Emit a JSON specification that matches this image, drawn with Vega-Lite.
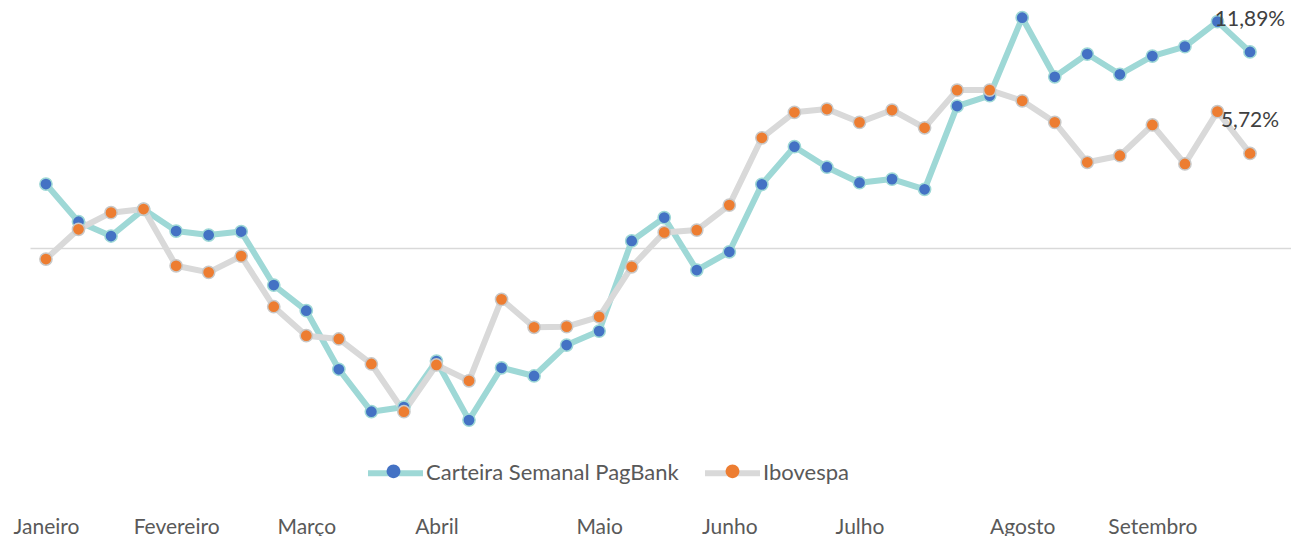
{
  "$schema": "https://vega.github.io/schema/vega-lite/v6.json",
  "width": 1261,
  "height": 506,
  "autosize": {"type": "none"},
  "padding": {"left": 30, "top": 9, "right": 0, "bottom": 21},
  "background": "white",
  "config": {
    "view": {"stroke": null},
    "font": "Lato",
    "locale": {"number": {"decimal": ",", "thousands": ".", "grouping": [3], "currency": ["R$", ""]}}
  },
  "data": {
    "values": [
      {"i": 0, "series": "Carteira Semanal PagBank", "value": 0.0386},
      {"i": 1, "series": "Carteira Semanal PagBank", "value": 0.0157},
      {"i": 2, "series": "Carteira Semanal PagBank", "value": 0.0070},
      {"i": 3, "series": "Carteira Semanal PagBank", "value": 0.0232},
      {"i": 4, "series": "Carteira Semanal PagBank", "value": 0.0100},
      {"i": 5, "series": "Carteira Semanal PagBank", "value": 0.0076},
      {"i": 6, "series": "Carteira Semanal PagBank", "value": 0.0097},
      {"i": 7, "series": "Carteira Semanal PagBank", "value": -0.0228},
      {"i": 8, "series": "Carteira Semanal PagBank", "value": -0.0384},
      {"i": 9, "series": "Carteira Semanal PagBank", "value": -0.0740},
      {"i": 10, "series": "Carteira Semanal PagBank", "value": -0.0998},
      {"i": 11, "series": "Carteira Semanal PagBank", "value": -0.0970},
      {"i": 12, "series": "Carteira Semanal PagBank", "value": -0.0690},
      {"i": 13, "series": "Carteira Semanal PagBank", "value": -0.1049},
      {"i": 14, "series": "Carteira Semanal PagBank", "value": -0.0731},
      {"i": 15, "series": "Carteira Semanal PagBank", "value": -0.0781},
      {"i": 16, "series": "Carteira Semanal PagBank", "value": -0.0593},
      {"i": 17, "series": "Carteira Semanal PagBank", "value": -0.0508},
      {"i": 18, "series": "Carteira Semanal PagBank", "value": 0.0040},
      {"i": 19, "series": "Carteira Semanal PagBank", "value": 0.0182},
      {"i": 20, "series": "Carteira Semanal PagBank", "value": -0.0137},
      {"i": 21, "series": "Carteira Semanal PagBank", "value": -0.0026},
      {"i": 22, "series": "Carteira Semanal PagBank", "value": 0.0384},
      {"i": 23, "series": "Carteira Semanal PagBank", "value": 0.0613},
      {"i": 24, "series": "Carteira Semanal PagBank", "value": 0.0488},
      {"i": 25, "series": "Carteira Semanal PagBank", "value": 0.0394},
      {"i": 26, "series": "Carteira Semanal PagBank", "value": 0.0416},
      {"i": 27, "series": "Carteira Semanal PagBank", "value": 0.0354},
      {"i": 28, "series": "Carteira Semanal PagBank", "value": 0.0860},
      {"i": 29, "series": "Carteira Semanal PagBank", "value": 0.0923},
      {"i": 30, "series": "Carteira Semanal PagBank", "value": 0.1397},
      {"i": 31, "series": "Carteira Semanal PagBank", "value": 0.1038},
      {"i": 32, "series": "Carteira Semanal PagBank", "value": 0.1176},
      {"i": 33, "series": "Carteira Semanal PagBank", "value": 0.1053},
      {"i": 34, "series": "Carteira Semanal PagBank", "value": 0.1164},
      {"i": 35, "series": "Carteira Semanal PagBank", "value": 0.1221},
      {"i": 36, "series": "Carteira Semanal PagBank", "value": 0.1373},
      {"i": 37, "series": "Carteira Semanal PagBank", "value": 0.1189},
      {"i": 0, "series": "Ibovespa", "value": -0.0070},
      {"i": 1, "series": "Ibovespa", "value": 0.0111},
      {"i": 2, "series": "Ibovespa", "value": 0.0212},
      {"i": 3, "series": "Ibovespa", "value": 0.0234},
      {"i": 4, "series": "Ibovespa", "value": -0.0111},
      {"i": 5, "series": "Ibovespa", "value": -0.0151},
      {"i": 6, "series": "Ibovespa", "value": -0.0052},
      {"i": 7, "series": "Ibovespa", "value": -0.0360},
      {"i": 8, "series": "Ibovespa", "value": -0.0536},
      {"i": 9, "series": "Ibovespa", "value": -0.0556},
      {"i": 10, "series": "Ibovespa", "value": -0.0708},
      {"i": 11, "series": "Ibovespa", "value": -0.0998},
      {"i": 12, "series": "Ibovespa", "value": -0.0714},
      {"i": 13, "series": "Ibovespa", "value": -0.0810},
      {"i": 14, "series": "Ibovespa", "value": -0.0315},
      {"i": 15, "series": "Ibovespa", "value": -0.0485},
      {"i": 16, "series": "Ibovespa", "value": -0.0481},
      {"i": 17, "series": "Ibovespa", "value": -0.0421},
      {"i": 18, "series": "Ibovespa", "value": -0.0117},
      {"i": 19, "series": "Ibovespa", "value": 0.0092},
      {"i": 20, "series": "Ibovespa", "value": 0.0106},
      {"i": 21, "series": "Ibovespa", "value": 0.0258},
      {"i": 22, "series": "Ibovespa", "value": 0.0667},
      {"i": 23, "series": "Ibovespa", "value": 0.0822},
      {"i": 24, "series": "Ibovespa", "value": 0.0842},
      {"i": 25, "series": "Ibovespa", "value": 0.0761},
      {"i": 26, "series": "Ibovespa", "value": 0.0836},
      {"i": 27, "series": "Ibovespa", "value": 0.0728},
      {"i": 28, "series": "Ibovespa", "value": 0.0957},
      {"i": 29, "series": "Ibovespa", "value": 0.0957},
      {"i": 30, "series": "Ibovespa", "value": 0.0892},
      {"i": 31, "series": "Ibovespa", "value": 0.0761},
      {"i": 32, "series": "Ibovespa", "value": 0.0518},
      {"i": 33, "series": "Ibovespa", "value": 0.0558},
      {"i": 34, "series": "Ibovespa", "value": 0.0745},
      {"i": 35, "series": "Ibovespa", "value": 0.0508},
      {"i": 36, "series": "Ibovespa", "value": 0.0826},
      {"i": 37, "series": "Ibovespa", "value": 0.0572}
    ]
  },
  "encoding": {
    "x": {
      "field": "i",
      "type": "quantitative",
      "scale": {"domain": [-0.49, 38.26], "nice": false, "zero": false},
      "axis": {
        "values": [0, 4, 8, 12, 17, 21, 25, 30, 34],
        "labelExpr": "datum.value == 0 ? 'Janeiro' : datum.value == 4 ? 'Fevereiro' : datum.value == 8 ? 'Março' : datum.value == 12 ? 'Abril' : datum.value == 17 ? 'Maio' : datum.value == 21 ? 'Junho' : datum.value == 25 ? 'Julho' : datum.value == 30 ? 'Agosto' : 'Setembro'",
        "domain": false,
        "ticks": false,
        "grid": false,
        "title": null,
        "labelFont": "Lato",
        "labelFontSize": 21,
        "labelColor": "#595959",
        "labelPadding": 1,
        "labelFlush": false,
        "labelOverlap": false
      }
    },
    "y": {
      "field": "value",
      "type": "quantitative",
      "scale": {"domain": [-0.1626, 0.145], "nice": false, "zero": false},
      "axis": {
        "values": [0],
        "grid": true,
        "gridColor": "#D9D9D9",
        "gridWidth": 1.5,
        "labels": false,
        "ticks": false,
        "domain": false,
        "title": null
      }
    }
  },
  "layer": [
    {
      "mark": {"type": "line", "strokeWidth": 6, "strokeCap": "round", "strokeJoin": "round"},
      "encoding": {
        "color": {
          "field": "series",
          "type": "nominal",
          "scale": {"range": ["#9ED8D6", "#D9D9D9"]},
          "legend": {
            "orient": "none",
            "legendX": 335,
            "legendY": 433.5,
            "direction": "horizontal",
            "title": null,
            "padding": 0,
            "symbolType": "stroke",
            "symbolSize": 3025,
            "symbolStrokeWidth": 6,
            "labelFont": "Lato",
            "labelFontSize": 22,
            "labelColor": "#595959",
            "labelOffset": 0,
            "columnPadding": 14,
            "labelLimit": 400
          }
        }
      }
    },
    {
      "mark": {"type": "point", "filled": true, "size": 150, "strokeWidth": 1.5, "opacity": 1},
      "encoding": {
        "fill": {
          "field": "series",
          "type": "nominal",
          "scale": {"domain": ["Carteira Semanal PagBank", "Ibovespa"], "range": ["#4472C4", "#ED7D31"]},
          "legend": {
            "orient": "none",
            "legendX": 335,
            "legendY": 433.5,
            "direction": "horizontal",
            "title": null,
            "padding": 0,
            "symbolType": "M -0.25 0 A 0.25 0.25 0 1 1 0.25 0 A 0.25 0.25 0 1 1 -0.25 0 Z",
            "symbolSize": 3025,
            "symbolStrokeWidth": 1.5,
            "labelFont": "Lato",
            "labelFontSize": 22,
            "labelExpr": "''",
            "labelOffset": 0,
            "columnPadding": 282,
            "labelLimit": 400,
            "encode": {
              "symbols": {
                "update": {
                  "stroke": {"signal": "datum.value === 'Ibovespa' ? '#C8C8C8' : '#9ED8D6'"},
                  "strokeWidth": {"value": 1.5},
                  "opacity": {"value": 1},
                  "fillOpacity": {"value": 1}
                }
              }
            }
          }
        },
        "stroke": {
          "field": "series",
          "type": "nominal",
          "scale": {"range": ["#9ED8D6", "#C8C8C8"]},
          "legend": null
        }
      }
    },
    {
      "transform": [{"filter": "datum.i == 37"}],
      "mark": {"type": "text", "dy": -32, "fontSize": 21, "font": "Lato", "color": "#404040", "baseline": "middle", "align": "center"},
      "encoding": {
        "text": {"field": "value", "type": "quantitative", "format": ".2%"}
      }
    }
  ]
}
